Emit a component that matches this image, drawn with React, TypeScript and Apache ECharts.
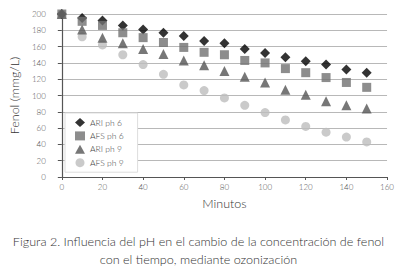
import React, { useEffect, useRef } from "react";
import * as echarts from "echarts";

const minutes = [0, 10, 20, 30, 40, 50, 60, 70, 80, 90, 100, 110, 120, 130, 140, 150];
const ariPh6 = [200, 195, 192, 186, 181, 177, 173, 167, 164, 157, 152, 147, 142, 138, 132, 128];
const afsPh6 = [200, 191, 186, 177, 171, 165, 159, 153, 150, 143, 140, 133, 128, 122, 116, 110];
const ariPh9 = [200, 181, 171, 164, 157, 151, 143, 137, 130, 123, 116, 107, 101, 93, 88, 84];
const afsPh9 = [200, 172, 162, 150, 138, 126, 113, 106, 97, 88, 79, 70, 62, 55, 49, 43];
const yTicks = [0, 200, 20];
const xTicks = [0, 160, 20];
const seriesNames = ["ARI ph 6", "AFS ph 6", "ARI ph 9", "AFS ph 9"];
const caption1 = "Figura 2. Influencia del pH en el cambio de la concentración de fenol";
const caption2 = "con el tiempo, mediante ozonización";

const FONT = "Lato, 'DejaVu Sans', sans-serif";

export default function App() {
  const ref = useRef<HTMLDivElement>(null);
  useEffect(() => {
    if (!ref.current) return;
    const chart = echarts.init(ref.current, undefined, { renderer: "svg" });
    const pair = (ys: number[]) => minutes.map((m, i) => [m, ys[i]]);
    const styles = [
      { symbol: "diamond", size: 10, color: "#000000", data: ariPh6, z: 3 },
      { symbol: "rect", size: 9, color: "#707070", data: afsPh6, z: 4 },
      { symbol: "triangle", size: 10, color: "#555555", data: ariPh9, z: 2 },
      { symbol: "circle", size: 9, color: "#bdbdbd", data: afsPh9, z: 1 },
    ];
    chart.setOption({
      animation: false,
      textStyle: { fontFamily: FONT, fontWeight: 300 },
      grid: { left: 56, right: 4, top: 14, bottom: 100, containLabel: false },
      legend: {
        orient: "vertical",
        left: 65,
        top: 113,
        width: 70,
        padding: [5, 14, 5, 10],
        backgroundColor: "#ffffff",
        borderColor: "#dddddd",
        borderWidth: 1,
        itemWidth: 10,
        itemHeight: 9,
        itemGap: 4.4,
        textStyle: { fontSize: 8.5, color: "#444", fontFamily: FONT, fontWeight: 300 },
        data: seriesNames,
      },
      xAxis: {
        type: "value",
        min: xTicks[0],
        max: xTicks[1],
        interval: xTicks[2],
        name: "Minutos",
        nameLocation: "middle",
        nameGap: 20,
        nameTextStyle: { fontSize: 12.5, color: "#333", fontFamily: FONT, fontWeight: 300 },
        axisLine: { lineStyle: { color: "#555", width: 1.2 } },
        axisTick: { show: true, length: 3, inside: false, lineStyle: { color: "#555" } },
        axisLabel: { fontSize: 8, color: "#555", margin: 6, fontWeight: 300 },
        splitLine: { show: false },
      },
      yAxis: {
        type: "value",
        min: yTicks[0],
        max: yTicks[1],
        interval: yTicks[2],
        name: "Fenol (mmg/L)",
        nameLocation: "middle",
        nameRotate: 90,
        nameGap: 36,
        nameTextStyle: { fontSize: 12.5, color: "#333", fontFamily: FONT, fontWeight: 300 },
        axisLine: { show: true, lineStyle: { color: "#555", width: 1.2 } },
        axisTick: { show: true, length: 4, lineStyle: { color: "#555" } },
        axisLabel: { fontSize: 8, color: "#555", margin: 16, fontWeight: 300 },
        splitLine: { show: true, lineStyle: { color: "#b8b8b8", width: 1 } },
      },
      series: styles.map((s, i) => ({
        name: seriesNames[i],
        type: "scatter",
        symbol: s.symbol,
        symbolSize: s.size,
        z: s.z,
        itemStyle: { color: s.color },
        data: pair(s.data),
      })),
      graphic: [
        {
          type: "text",
          left: "center",
          top: 235,
          style: { text: caption1, fontSize: 12.6, fill: "#333", fontFamily: FONT, fontWeight: 300 },
        },
        {
          type: "text",
          left: "center",
          top: 253,
          style: { text: caption2, fontSize: 12.6, fill: "#333", fontFamily: FONT, fontWeight: 300 },
        },
      ],
    });
    return () => chart.dispose();
  }, []);
  return (
    <div
      ref={ref}
      style={{ position: "fixed", left: 0, top: 0, width: 397, height: 277, background: "#fff" }}
    />
  );
}
